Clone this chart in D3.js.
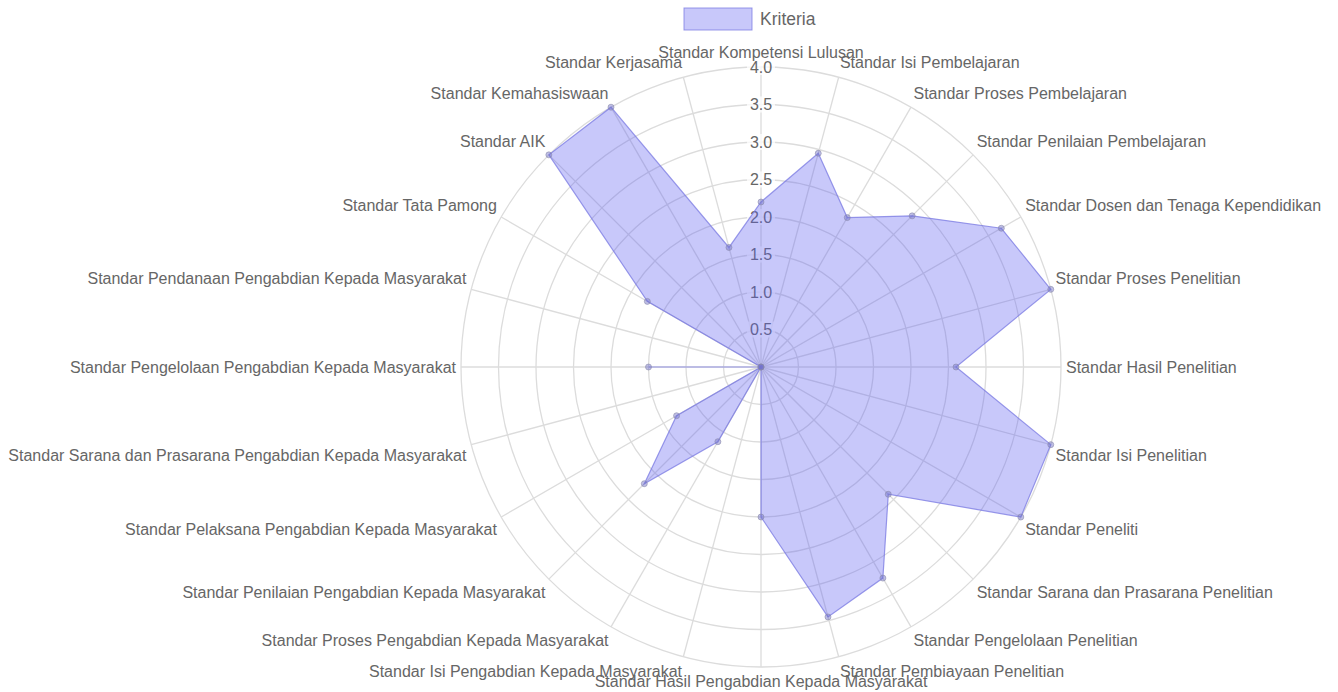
<!DOCTYPE html>
<html>
<head>
<meta charset="utf-8">
<script src="https://cdn.jsdelivr.net/npm/d3@7"></script>
<style>
  body { margin: 0; background: #fff; }
  text { font-family: "Liberation Sans", Arial, Helvetica, sans-serif; }
</style>
</head>
<body>
<div id="canvas"></div>
<script>
const width = 1338;
const height = 692;

// data
const categories = [
  "Standar Kompetensi Lulusan",
  "Standar Isi Pembelajaran",
  "Standar Proses Pembelajaran",
  "Standar Penilaian Pembelajaran",
  "Standar Dosen dan Tenaga Kependidikan",
  "Standar Proses Penelitian",
  "Standar Hasil Penelitian",
  "Standar Isi Penelitian",
  "Standar Peneliti",
  "Standar Sarana dan Prasarana Penelitian",
  "Standar Pengelolaan Penelitian",
  "Standar Pembiayaan Penelitian",
  "Standar Hasil Pengabdian Kepada Masyarakat",
  "Standar Isi Pengabdian Kepada Masyarakat",
  "Standar Proses Pengabdian Kepada Masyarakat",
  "Standar Penilaian Pengabdian Kepada Masyarakat",
  "Standar Pelaksana Pengabdian Kepada Masyarakat",
  "Standar Sarana dan Prasarana Pengabdian Kepada Masyarakat",
  "Standar Pengelolaan Pengabdian Kepada Masyarakat",
  "Standar Pendanaan Pengabdian Kepada Masyarakat",
  "Standar Tata Pamong",
  "Standar AIK",
  "Standar Kemahasiswaan",
  "Standar Kerjasama"
];
const kriteria = [2.2, 2.95, 2.3, 2.85, 3.7, 4.0, 2.6, 4.0, 4.0, 2.4, 3.25, 3.45,
                  2.0, 0, 1.15, 2.2, 1.3, 0, 1.5, 0, 1.75, 4.0, 4.0, 1.65];
const tickValues = [0.5, 1.0, 1.5, 2.0, 2.5, 3.0, 3.5, 4.0];
const seriesName = "Kriteria";

const cx = 761, cy = 367, R = 300;
const fillColor = "rgba(95, 95, 240, 0.34)";
const lineColor = "rgba(120, 120, 225, 0.75)";
const gridColor = "#dcdcdc";
const textColor = "#666";
const fontSize = 16;

const svg = d3.select("#canvas")
    .append("svg")
    .attr("width", width)
    .attr("height", height);

const r = d3.scaleLinear().domain([0, 4]).range([0, R]);
const angle = d3.scaleLinear().domain([0, categories.length]).range([0, 2 * Math.PI]);

const g = svg.append("g").attr("transform", `translate(${cx},${cy})`);

// circular grid
g.selectAll(".ring")
    .data(tickValues)
    .join("circle")
    .attr("r", d => r(d))
    .attr("fill", "none")
    .attr("stroke", gridColor)
    .attr("stroke-width", 1.3);

// angle lines
g.selectAll(".spoke")
    .data(categories)
    .join("line")
    .attr("x1", 0).attr("y1", 0)
    .attr("x2", (d, i) => r(4) * Math.sin(angle(i)))
    .attr("y2", (d, i) => -r(4) * Math.cos(angle(i)))
    .attr("stroke", gridColor)
    .attr("stroke-width", 1.3);

// tick labels with backdrop
const ticks = g.selectAll(".tick")
    .data(tickValues)
    .join("g")
    .attr("transform", d => `translate(0,${-r(d)})`);
ticks.append("rect")
    .attr("x", -14).attr("y", -8)
    .attr("width", 28).attr("height", 16)
    .attr("fill", "rgba(255,255,255,0.75)");
ticks.append("text")
    .attr("text-anchor", "middle")
    .attr("dy", "0.36em")
    .attr("fill", textColor)
    .style("font-size", fontSize + "px")
    .text(d => d3.format(".1f")(d));

// point labels, placed like chart.js does
const labelR = r(4) + 5;
g.selectAll(".plabel")
    .data(categories)
    .join("text")
    .attr("x", (d, i) => labelR * Math.sin(angle(i)))
    .attr("y", (d, i) => -labelR * Math.cos(angle(i)))
    .attr("text-anchor", (d, i) => {
        const deg = i * 360 / categories.length;
        if (deg === 0 || deg === 180) return "middle";
        return deg < 180 ? "start" : "end";
    })
    .attr("dy", (d, i) => {
        const deg = i * 360 / categories.length;
        if (deg === 90 || deg === 270) return "0.35em";
        if (deg > 270 || deg < 90) return "-0.25em";
        return "0.95em";
    })
    .attr("fill", textColor)
    .style("font-size", fontSize + "px")
    .text(d => d);

// dataset
const radial = d3.lineRadial()
    .angle((d, i) => angle(i))
    .radius(d => r(d))
    .curve(d3.curveLinearClosed);

g.append("path")
    .datum(kriteria)
    .attr("d", radial)
    .attr("fill", fillColor)
    .attr("stroke", lineColor)
    .attr("stroke-width", 1.2);

g.selectAll(".pt")
    .data(kriteria)
    .join("circle")
    .attr("cx", (d, i) => r(d) * Math.sin(angle(i)))
    .attr("cy", (d, i) => -r(d) * Math.cos(angle(i)))
    .attr("r", 3)
    .attr("fill", "rgba(110, 110, 200, 0.45)")
    .attr("stroke", "rgba(140, 140, 170, 0.6)")
    .attr("stroke-width", 1);

// legend
const legend = svg.append("g").attr("transform", "translate(684,8)");
legend.append("rect")
    .attr("width", 68).attr("height", 22)
    .attr("fill", fillColor)
    .attr("stroke", lineColor)
    .attr("stroke-width", 1);
legend.append("text")
    .attr("x", 76).attr("y", 11)
    .attr("dy", "0.35em")
    .attr("fill", textColor)
    .style("font-size", "17.5px")
    .text(seriesName);
</script>
</body>
</html>
